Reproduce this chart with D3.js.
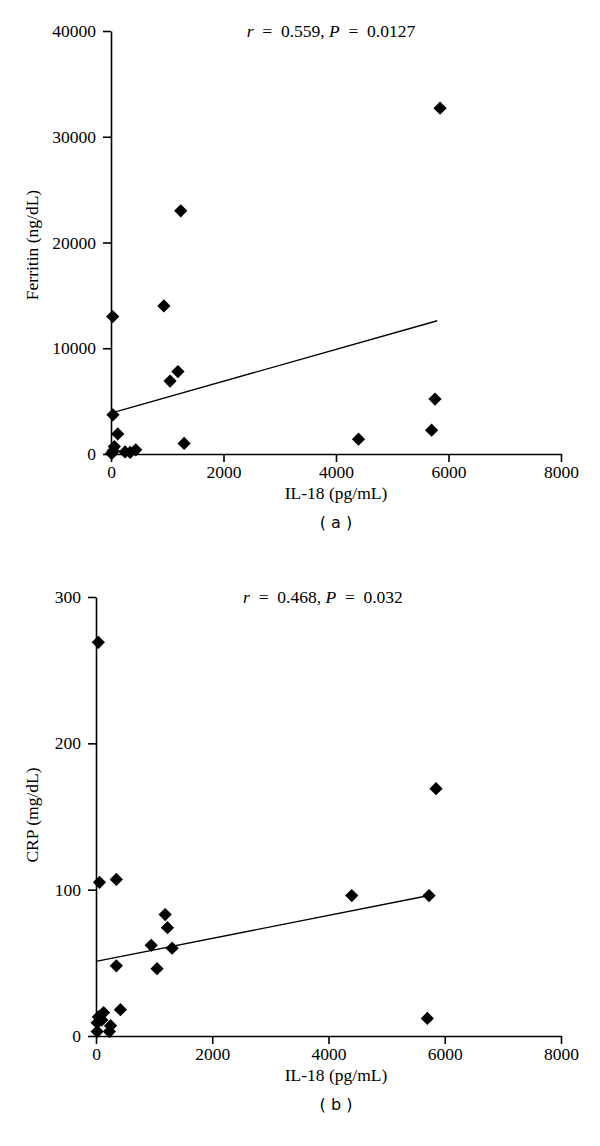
<!DOCTYPE html>
<html>
<head>
<meta charset="utf-8">
<script src="https://cdn.jsdelivr.net/npm/d3@7"></script>
<style>
body { margin: 0; background: #fff; }
text { fill: #000; }
</style>
</head>
<body>
<svg id="chart" width="600" height="1146"></svg>
<script>
// panel a: IL-18 vs ferritin
var il18A = [5850, 1240, 940, 30, 1190, 1050, 5760, 35, 5700, 120, 4400, 1300, 60, 440, 340, 20, 40, 10, 250]
var ferritin = [32700, 23000, 14000, 13000, 7800, 6900, 5200, 3700, 2250, 1900, 1400, 1000, 700, 400, 150, 100, 300, 50, 200]
var fitA = [[0, 3870], [5800, 12600]]

// panel b: IL-18 vs CRP
var il18B = [40, 5850, 350, 60, 4400, 5730, 1190, 1230, 950, 1310, 350, 1050, 420, 130, 40, 20, 250, 20, 230, 5700, 100]
var crp = [269, 169, 107, 105, 96, 96, 83, 74, 62, 60, 48, 46, 18, 16, 13, 9, 7, 3, 3, 12, 11]
var fitB = [[0, 51], [5730, 96]]

var xTicks = [0, 2000, 4000, 6000, 8000]
var yTicksA = [0, 10000, 20000, 30000, 40000]
var yTicksB = [0, 100, 200, 300]

var serif = "Liberation Serif, DejaVu Serif, serif"
var fs = "17.5px"
var svg = d3.select("#chart")

function drawPanel(opt) {
    var x = d3.scaleLinear().domain([0, 8000]).range([opt.left, 561])
    var y = d3.scaleLinear().domain([0, opt.ymax]).range([opt.bottom, opt.top])
    var g = svg.append("g")

    var xAxis = g.append("g").attr("transform", "translate(0," + opt.bottom + ")")
        .call(d3.axisBottom(x).tickValues(xTicks).tickFormat(d3.format("d"))
            .tickSize(8).tickPadding(4).tickSizeOuter(0))
    var yAxis = g.append("g").attr("transform", "translate(" + opt.left + ",0)")
        .call(d3.axisLeft(y).tickValues(opt.yticks).tickFormat(d3.format("d"))
            .tickSize(8).tickPadding(7).tickSizeOuter(0))
    ;[xAxis, yAxis].forEach(function(a){
        a.attr("font-family", serif).attr("font-size", fs)
        a.select(".domain").attr("stroke", "#000").attr("stroke-width", 1.6)
        a.selectAll(".tick line").attr("stroke", "#000").attr("stroke-width", 1.6)
        a.selectAll(".tick text").attr("fill", "#000")
    })

    // fit line
    g.append("line")
        .attr("x1", x(opt.fit[0][0])).attr("y1", y(opt.fit[0][1]))
        .attr("x2", x(opt.fit[1][0])).attr("y2", y(opt.fit[1][1]))
        .attr("stroke", "#000").attr("stroke-width", 1.4)

    // diamonds
    g.selectAll("path.pt").data(opt.xs).enter().append("path").attr("class", "pt")
        .attr("d", d3.symbol().type(d3.symbolSquare).size(88))
        .attr("transform", function(d, i){
            return "translate(" + x(d) + "," + y(opt.ys[i]) + ") rotate(45)"
        }).attr("fill", "#000")

    // stats
    var st = g.append("text").attr("x", opt.statX).attr("y", opt.top + 6)
        .attr("text-anchor", "middle").attr("font-size", fs).attr("font-family", serif)
        .attr("xml:space", "preserve")
    st.append("tspan").attr("font-style", "italic").text("r")
    st.append("tspan").text("  =  " + opt.r + ", ")
    st.append("tspan").attr("font-style", "italic").text("P")
    st.append("tspan").text("  =  " + opt.p)

    g.append("text").attr("x", 336).attr("y", opt.bottom + 45)
        .attr("text-anchor", "middle").attr("font-size", fs).attr("font-family", serif)
        .text("IL-18 (pg/mL)")
    g.append("text").attr("transform", "translate(38," + opt.ylabY + ") rotate(-90)")
        .attr("text-anchor", "middle").attr("font-size", fs).attr("font-family", serif)
        .text(opt.ylabel)
    g.append("text").attr("x", 336).attr("y", opt.bottom + 74)
        .attr("text-anchor", "middle").attr("font-size", "16px")
        .attr("font-family", "DejaVu Sans, sans-serif").attr("xml:space", "preserve")
        .text(opt.panel)
}

drawPanel({left: 111, top: 31, bottom: 454, ymax: 40000, yticks: yTicksA,
    xs: il18A, ys: ferritin, fit: fitA, r: "0.559", p: "0.0127", statX: 331,
    ylabel: "Ferritin (ng/dL)", ylabY: 245, panel: "( a )"})
drawPanel({left: 96, top: 597, bottom: 1036, ymax: 300, yticks: yTicksB,
    xs: il18B, ys: crp, fit: fitB, r: "0.468", p: "0.032", statX: 323,
    ylabel: "CRP (mg/dL)", ylabY: 815, panel: "( b )"})
</script>
</body>
</html>
